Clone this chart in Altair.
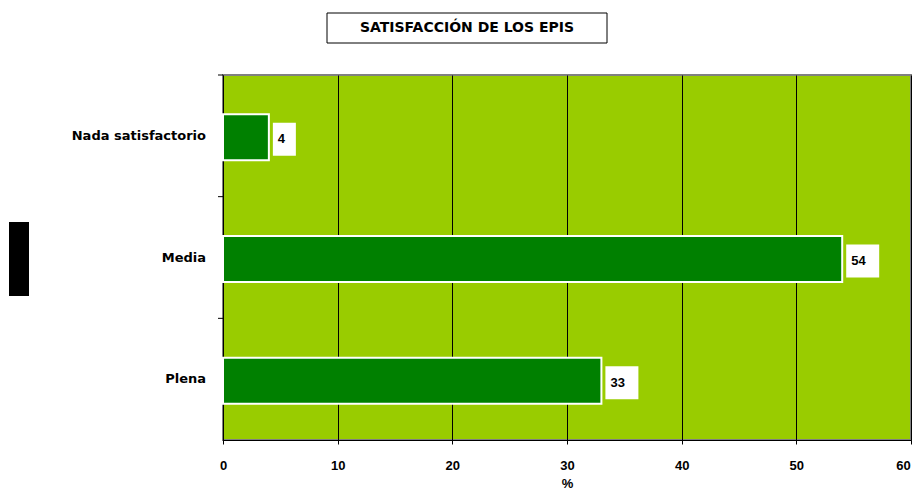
import altair as alt
import pandas as pd

# ---- data ----
categories = ["Nada satisfactorio", "Media", "Plena"]
values = [4, 54, 33]
x_ticks = [0, 10, 20, 30, 40, 50, 60]
title_text = ["SATISFACCIÓN DE LOS EPIS"]
x_title = "%"

W, H = 688, 365
px_per_unit = W / 60.0
FONT = "Liberation Sans"
WIDE = "DejaVu Sans"

df = pd.DataFrame({"cat": categories, "v": values})
base = alt.Chart(df)

yenc = alt.Y(
    "cat:N",
    sort=categories,
    scale=alt.Scale(paddingInner=0, paddingOuter=0),
    axis=alt.Axis(title=None, labels=False, ticks=False, grid=False,
                  domain=True, domainColor="black", domainWidth=1),
)
xscale = alt.Scale(domain=[0, 60], nice=False, zero=True)
xenc = alt.X(
    "v:Q",
    scale=xscale,
    axis=alt.Axis(
        values=x_ticks, title=x_title, grid=True, gridColor="black",
        gridWidth=1, gridOpacity=1, domainColor="black", domainWidth=1,
        tickColor="black", tickSize=4, labelFontSize=13,
        labelFontWeight="bold", labelFont=FONT, labelColor="black",
        labelPadding=15, labelFlush=False,
        labelOffset={"condition": {"test": "datum.value == 60", "value": -8},
                     "value": 0},
        titleFont=FONT, titleFontSize=13, titleFontWeight="bold",
        titleColor="black", titlePadding=5,
    ),
)

bars = base.mark_bar(color="#008000", stroke="white", strokeWidth=2,
                     size=46, yOffset=1.5).encode(x=xenc, y=yenc)

boxes = base.transform_calculate(
    box_start=f"datum.v + 4/{px_per_unit}",
    box_end=f"datum.v + (4 + 13 + 10*length(toString(datum.v)))/{px_per_unit}",
).mark_bar(color="white", size=33, yOffset=3.5).encode(
    x=alt.X("box_start:Q", scale=xscale), x2="box_end:Q",
    y=alt.Y("cat:N", sort=categories)
)

texts = base.mark_text(align="left", baseline="middle", dx=9, dy=3.5,
                       fontSize=13, fontWeight="bold", font=FONT,
                       color="black").encode(
    x=alt.X("v:Q", scale=xscale), y=alt.Y("cat:N", sort=categories),
    text="v:Q")

ylabels = base.mark_text(align="right", baseline="middle", dx=-17,
                         fontSize=13, fontWeight="bold", font=WIDE,
                         color="black").encode(
    x=alt.value(0), y=alt.Y("cat:N", sort=categories), text="cat:N")

yticks = base.mark_rule(color="black", strokeWidth=1, yOffset=-H / 6).encode(
    x=alt.value(-5), x2=alt.value(0), y=alt.Y("cat:N", sort=categories))

tdf = pd.DataFrame({"t": title_text})
title_box = alt.Chart(tdf).mark_rect(fill="white", stroke="black",
                                     strokeWidth=1).encode(
    x=alt.value(104), x2=alt.value(384), y=alt.value(-62), y2=alt.value(-32))
title_txt = alt.Chart(tdf).mark_text(align="center", baseline="middle",
                                     fontSize=14, fontWeight="bold",
                                     font=WIDE, color="black").encode(
    x=alt.value(244), y=alt.value(-47), text="t:N")

black_mark = alt.Chart(tdf).mark_rect(color="black").encode(
    x=alt.value(-214), x2=alt.value(-194), y=alt.value(147), y2=alt.value(221))

chart = alt.layer(
    bars, boxes, texts, ylabels, yticks, title_box, title_txt, black_mark
).properties(
    width=W, height=H,
    autosize=alt.AutoSizeParams(type="none"),
    padding={"left": 215, "top": 67, "right": 2, "bottom": 49},
    background="white",
).configure_view(fill="#99CC00", stroke="#808080", strokeWidth=2)

chart.save("out.html", embed_options={"renderer": "svg", "actions": False})
